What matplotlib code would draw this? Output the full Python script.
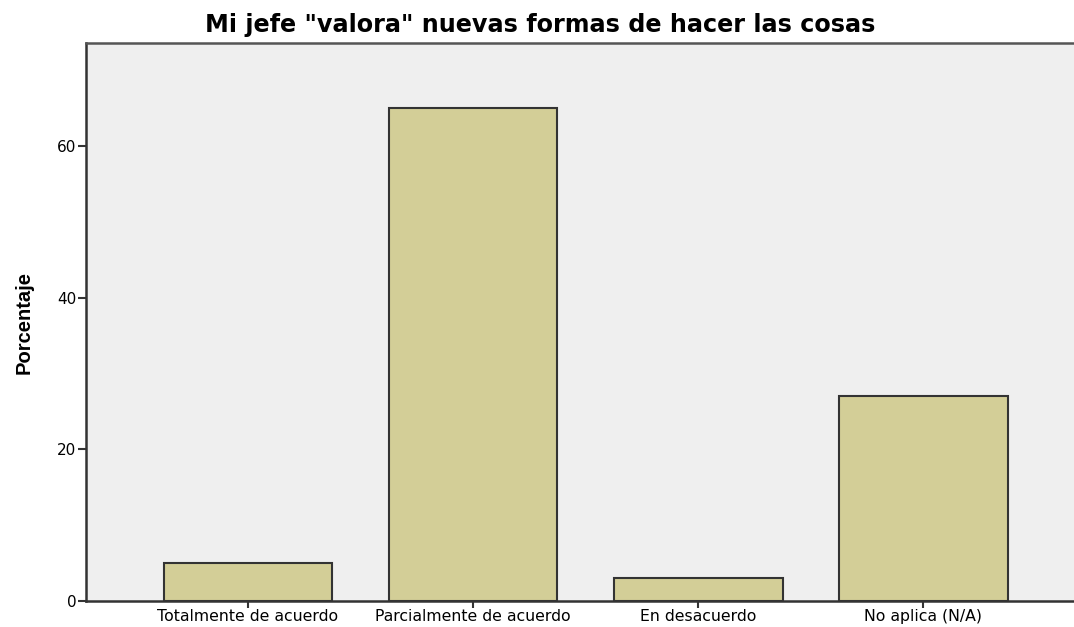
import matplotlib.pyplot as plt
import numpy as np

categorias = ['Totalmente de acuerdo', 'Parcialmente de acuerdo', 'En desacuerdo', 'No aplica (N/A)']
porcentajes = [5.0, 65.0, 3.0, 27.0]
yticks = [0, 20, 40, 60]

plt.rcParams['font.family'] = ['DejaVu Sans']

fig = plt.figure(figsize=(10.74, 6.27), dpi=100)
ax = fig.add_axes([86 / 1074, 1 - 601 / 627, 1 - 86 / 1074, (601 - 43) / 627])
ax.set_facecolor('#efefef')

x = np.arange(len(categorias))
ax.bar(x, porcentajes, width=0.75, color='#d3ce97', edgecolor='#333333', linewidth=1.5, zorder=3)

ax.set_xlim(-0.72, 3.67)
ax.set_ylim(0, 73.6)
ax.set_xticks(x)
ax.set_xticklabels(categorias, fontsize=11.3)
ax.set_yticks(yticks)
ax.tick_params(axis='y', length=6, width=1.5, labelsize=11, pad=1, color='#333333')
ax.tick_params(axis='x', length=5, width=1.5, pad=1, color='#333333')

for s in ['left', 'bottom']:
    ax.spines[s].set_linewidth(1.8)
    ax.spines[s].set_color('#333333')
ax.spines['top'].set_linewidth(1.8)
ax.spines['top'].set_color('#555555')
ax.spines['right'].set_visible(False)

ax.set_ylabel('Porcentaje', fontsize=14.5, fontweight='bold', family=['Liberation Sans Narrow', 'Liberation Sans'], labelpad=17)
fig.text(540 / 1074, 1 - 25 / 627, 'Mi jefe "valora" nuevas formas de hacer las cosas',
         ha='center', va='center', fontsize=17.2, fontweight='bold')

fig.savefig('out.png', dpi=100)
